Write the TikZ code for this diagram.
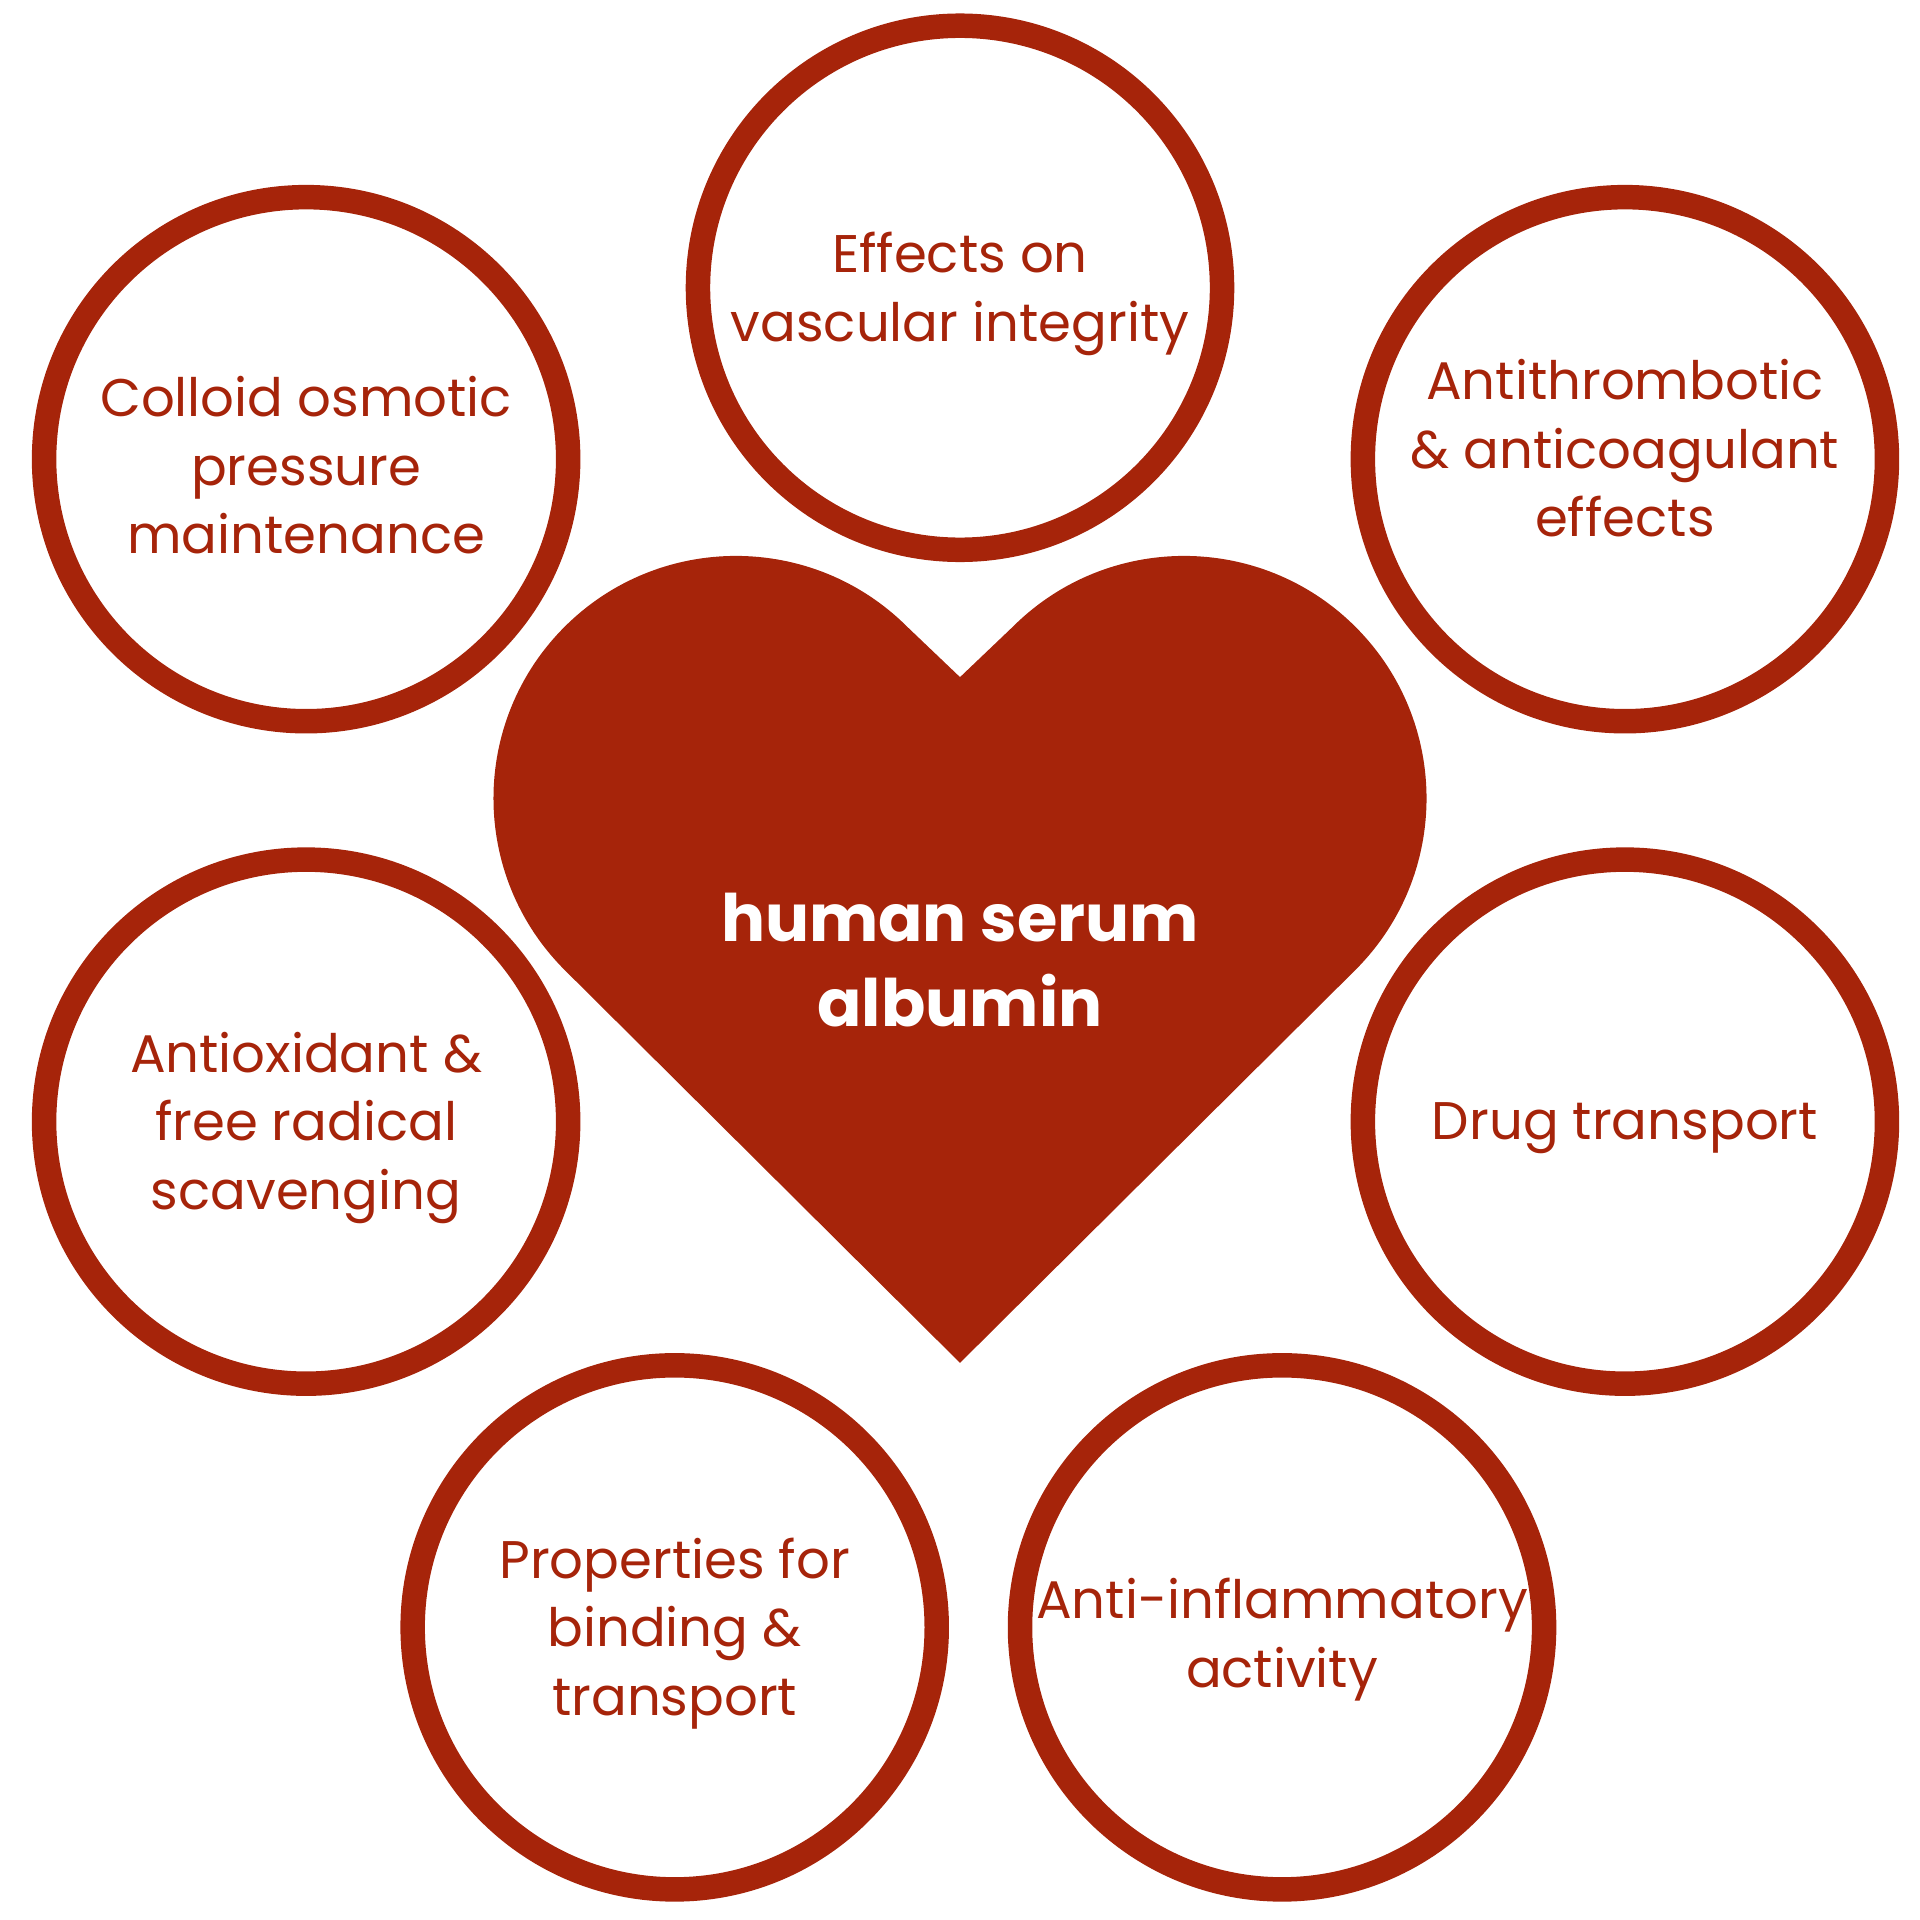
\documentclass[tikz,border=0pt]{standalone}
\usepackage{fontspec}
\setmainfont{Poppins}
\usepackage{tikz}
\usetikzlibrary{positioning}
\usetikzlibrary{calc}

\definecolor{hsared}{HTML}{A6240A}

\tikzset{
    ring/.style={circle, draw=hsared, line width=.2cm, minimum size=4.28cm, inner sep=0pt},
    lbl/.style={align=center, text=hsared, font=\fontsize{12.3}{15.9}\selectfont, inner sep=0pt, yshift=-.05cm},
    core/.style={align=center, text=white, font=\bfseries\fontsize{15.2}{19.9}\selectfont, inner sep=0pt}
}

\begin{document}
\begin{tikzpicture}
    \useasboundingbox (0, 0) rectangle (15.68, -15.68);

    % heart
    \coordinate (lobeL) at (6.01, -6.52);
    \coordinate (lobeR) at (9.67, -6.52);
    \coordinate (tip) at (7.84, -11.13);
    \coordinate (notch) at (7.84, -5.53);
    \fill[hsared] (tip) -- ($(lobeL) + (225:1.98)$)
        arc[start angle=225, end angle=45, radius=1.98] -- (notch)
        -- ($(lobeR) + (135:1.98)$)
        arc[start angle=135, end angle=-45, radius=1.98] -- cycle;
    \node[core] (hsa) at (7.84, -7.84) {human serum\\albumin};

    % rings
    \node[ring] (vasc) at (7.84, -2.35) {};
    \node[ring] (osm) at (2.50, -3.75) {};
    \node[ring] (thromb) at (13.27, -3.75) {};
    \node[ring] (oxid) at (2.50, -9.16) {};
    \node[ring] (drug) at (13.27, -9.16) {};
    \node[ring] (bind) at (5.51, -13.29) {};
    \node[ring] (infl) at (10.47, -13.29) {};

    \node[lbl] (vascT) at (vasc) {Effects on\\vascular integrity};
    \node[lbl] (osmT) at (osm) {Colloid osmotic\\pressure\\maintenance};
    \node[lbl] (thrombT) at ($(thromb) + (0, .14)$) {Antithrombotic\\\& anticoagulant\\effects};
    \node[lbl] (oxidT) at (oxid) {Antioxidant \&\\free radical\\scavenging};
    \node[lbl] (drugT) at (drug) {Drug transport};
    \node[lbl] (bindT) at (bind) {Properties for\\binding \&\\transport};
    \node[lbl] (inflT) at ($(infl) + (0, -.05)$) {Anti-inflammatory\\activity};
\end{tikzpicture}
\end{document}
